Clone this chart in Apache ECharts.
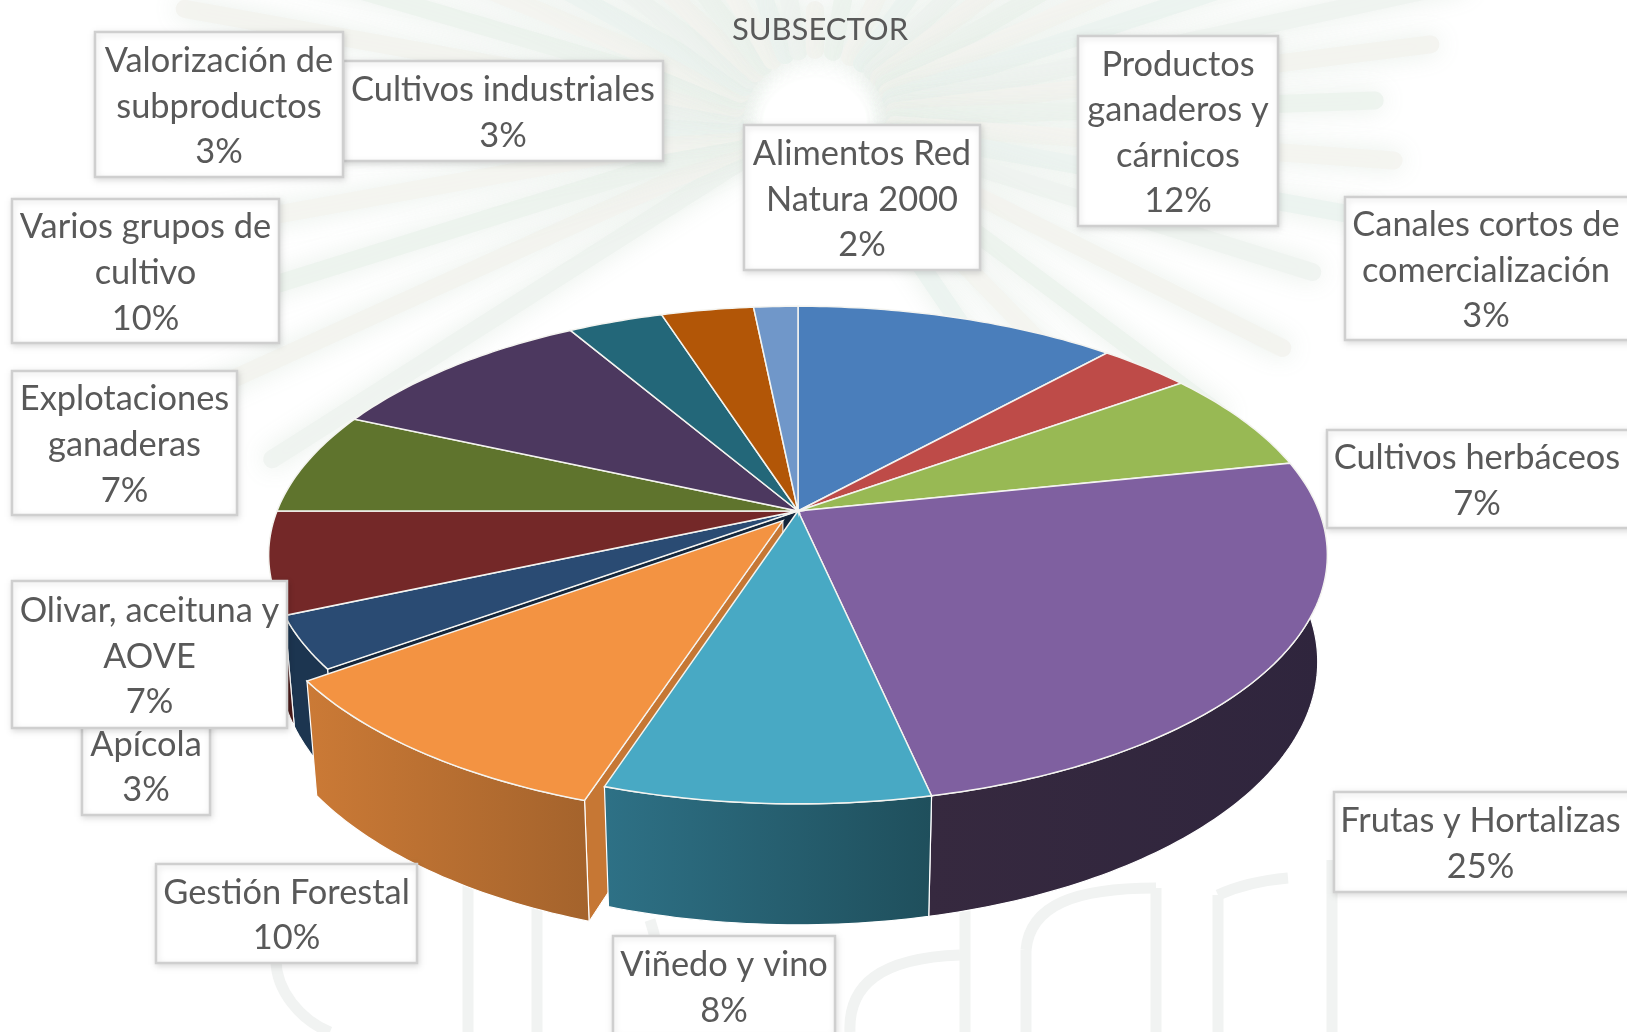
<!DOCTYPE html>
<html>
<head>
<meta charset="utf-8">
<title>Subsector</title>
<style>
  html, body { margin: 0; padding: 0; background: #fff; }
  #main { width: 1627px; height: 1032px; }
</style>
<script src="https://cdn.jsdelivr.net/npm/echarts@6/dist/echarts.min.js"></script>
</head>
<body>
<div id="main"></div>
<script>
// clockwise from 12 o'clock
var categories = [
  'Productos ganaderos y cárnicos', 'Canales cortos de comercialización', 'Cultivos herbáceos',
  'Frutas y Hortalizas', 'Viñedo y vino', 'Gestión Forestal', 'Apícola', 'Olivar, aceituna y AOVE',
  'Explotaciones ganaderas', 'Varios grupos de cultivo', 'Cultivos industriales',
  'Valorización de subproductos', 'Alimentos Red Natura 2000'
];
// the labels show them rounded
var values = [11.7, 3.35, 6.65, 24.9, 8.4, 10, 3.4, 6.6, 6.7, 9.9, 3.45, 3.35, 1.6];
var topColors = ['#4a7ebb', '#be4b48', '#98b954', '#7f60a0', '#48a9c4', '#f39342', '#2a4b73',
  '#742828', '#5f742d', '#4c385f', '#236779', '#b25607', '#7097c9'];
var sideColors = ['#2f4f75', '#772f2d', '#5f7334', '#36293f', '#2e7186', '#cb7a36', '#1c3550',
  '#4a1a19', '#3c4a1c', '#2f233c', '#16414c', '#703604', '#46607f'];
var sideColorsEnd = ['#2f4f75', '#772f2d', '#5f7334', '#2f253d', '#1f4f5c', '#a4632c', '#1c3550',
  '#4a1a19', '#3c4a1c', '#2f233c', '#16414c', '#703604', '#46607f'];
// label line breaks as in the picture
var labelLines = [
  ['Productos', 'ganaderos y', 'cárnicos'], ['Canales cortos de', 'comercialización'], ['Cultivos herbáceos'],
  ['Frutas y Hortalizas'], ['Viñedo y vino'], ['Gestión Forestal'], ['Apícola'], ['Olivar, aceituna y', 'AOVE'],
  ['Explotaciones', 'ganaderas'], ['Varios grupos de', 'cultivo'], ['Cultivos industriales'],
  ['Valorización de', 'subproductos'], ['Alimentos Red', 'Natura 2000']
];
// label boxes: x, y, w, h
var labelBoxes = [
  [1078, 36, 200, 190], [1345, 197, 290, 143], [1327, 430, 310, 98],
  [1334, 792, 300, 100], [613, 936, 222, 100], [156, 864, 261, 99], [82, 716, 128, 99], [12, 581, 275, 147],
  [12, 371, 225, 144], [12, 199, 267, 144], [343, 61, 320, 100],
  [95, 32, 248, 145], [744, 125, 236, 145]
];
var explodedIndex = 5;

// projection of the tilted disc
var cx = 798, cy = 511, radX = 521, radY = 241, persp = 0.177, depth = 107, depthW = 0.018, explode = 0.049;

function project(x, z, low) {
  var w = 1 - persp * z + (low ? depthW : 0);
  return [cx + radX * x / w, cy + (radY * z + (low ? depth : 0)) / w];
}
function rimPoints(a0, a1, ox, oz, low) {
  var pts = [];
  var n = Math.max(2, Math.ceil((a1 - a0) * 60));
  for (var i = 0; i <= n; i++) {
    var a = a0 + (a1 - a0) * i / n;
    pts.push(project(Math.sin(a) + ox, -Math.cos(a) + oz, low));
  }
  return pts;
}

var total = values.reduce(function (s, v) { return s + v; }, 0);
var starts = [];
values.reduce(function (s, v, i) { starts[i] = s; return s + v; }, 0);

function renderSlice(params, api) {
  var i = params.dataIndex;
  var a0 = api.value(1) / total * Math.PI * 2;
  var a1 = a0 + api.value(0) / total * Math.PI * 2;
  var mid = (a0 + a1) / 2;
  var isOut = i === explodedIndex;
  var ox = isOut ? Math.sin(mid) * explode : 0;
  var oz = isOut ? -Math.cos(mid) * explode : 0;
  var base = isOut ? 5 : 1;
  var children = [];

  var apex = project(ox, oz, false);
  var apexLow = project(ox, oz, true);
  var topRim = rimPoints(a0, a1, ox, oz, false);

  // outer wall, front half only
  var fa0 = Math.max(a0, Math.PI / 2 - 0.3), fa1 = Math.min(a1, Math.PI * 1.5 + 0.3);
  if (fa1 > fa0) {
    var upper = rimPoints(fa0, fa1, ox, oz, false);
    var lower = rimPoints(fa0, fa1, ox, oz, true).reverse();
    children.push({
      type: 'polygon', z2: base,
      shape: { points: upper.concat(lower) },
      style: {
        fill: new echarts.graphic.LinearGradient(0, 0, 1, 0, [
          { offset: 0, color: sideColors[i] }, { offset: 1, color: sideColorsEnd[i] }
        ]),
        stroke: '#fff', lineWidth: 1.2
      }
    });
  }
  // cut walls inside the gap, they sit under the slices that stayed in place
  if (isOut) {
    var r = rimPoints(a0, a0, ox, oz, false)[0];
    var rl = rimPoints(a0, a0, ox, oz, true)[0];
    children.push({
      type: 'polygon', z2: 0.5,
      shape: { points: [apex, r, rl, apexLow] },
      style: { fill: '#c67734', stroke: '#fff', lineWidth: 1 }
    });
  }
  if (i === explodedIndex + 1) {
    var n0 = rimPoints(a0, a0, 0, 0, false)[0];
    var n1 = rimPoints(a0, a0, 0, 0, true)[0];
    children.push({
      type: 'polygon', z2: 0,
      shape: { points: [apex, n0, n1, apexLow] },
      style: { fill: '#14263b', stroke: '#fff', lineWidth: 1 }
    });
  }
  children.push({
    type: 'polygon', z2: base + 1,
    shape: { points: [apex].concat(topRim) },
    style: { fill: topColors[i], stroke: '#f4f4f0', lineWidth: 1.5 }
  });
  return { type: 'group', children: children };
}

var labelFont = '34.4px Lato';
function renderLabel(params, api) {
  var i = params.dataIndex;
  var box = labelBoxes[i];
  var lines = labelLines[i].concat(Math.round(api.value(0)) + '%');
  var children = [{
    type: 'rect', z2: 10,
    shape: { x: box[0], y: box[1], width: box[2], height: box[3] },
    style: { fill: '#fff', stroke: '#cfcfcf', lineWidth: 2.5, shadowBlur: 6, shadowColor: 'rgba(0,0,0,0.12)', shadowOffsetX: 1, shadowOffsetY: 2 }
  }];
  var lh = 45.6;
  var y0 = box[1] + box[3] / 2 - lh * (lines.length - 1) / 2 + 2;
  // boxes cut by the page edge keep the text centred on the visible part
  var tx = box[0] + (Math.min(box[0] + box[2], 1627) - box[0]) / 2;
  lines.forEach(function (t, k) {
    children.push({
      type: 'text', z2: 11,
      x: tx, y: y0 + k * lh,
      style: { text: t, fill: '#595959', font: labelFont, align: 'center', verticalAlign: 'middle' }
    });
  });
  return { type: 'group', children: children };
}

// faint pine branch and lettering of the page watermark
var needleAngles = [148, 156, 163, 170, 177, 184, 190, 196, 202, 208, 215, 222, 230, 238, 248, 258, 270, 283, 296, 306, 316, 323, 330, 336, 342, 348, 353, 358, 4, 10, 17, 26, 36, 45, 55];
var needleLengths = [640, 680, 640, 620, 640, 650, 640, 620, 620, 640, 600, 560, 500, 300, 200, 130, 110, 130, 200, 420, 580, 640, 660, 700, 710, 660, 620, 560, 580, 560, 520, 520, 500, 460, 420];
var needleColors = ['#eef3ef', '#f3f3ee', '#ecf3ed', '#f4f4f0', '#ebf3ef'];
var bgItems = [];
needleAngles.forEach(function (deg, i) {
  var a = deg * Math.PI / 180;
  var l = needleLengths[i];
  bgItems.push({
    type: 'line', silent: true, z: 0,
    shape: { x1: 815 + Math.cos(a) * 80, y1: 120 + Math.sin(a) * 70, x2: 815 + Math.cos(a) * l, y2: 120 + Math.sin(a) * l },
    style: { stroke: needleColors[i % needleColors.length], lineWidth: 18, opacity: 0.9, shadowBlur: 24, shadowColor: '#e6ede7', lineCap: 'round' }
  });
});
// straight strokes: x1, y1, x2, y2
var letterStrokes = [
  [468, 860, 468, 1032], [537, 860, 537, 1032], [965, 880, 965, 1032], [1156, 888, 1156, 1032],
  [1026, 950, 1026, 1032], [1218, 895, 1218, 1032], [1332, 860, 1332, 1032]
];
// curved strokes: x1, y1, cp1x, cp1y, cp2x, cp2y, x2, y2
var letterCurves = [
  [276, 960, 276, 990, 300, 1020, 330, 1032],
  [640, 1032, 665, 985, 660, 950, 650, 920],
  [850, 1032, 848, 985, 880, 958, 960, 955],
  [1026, 950, 1030, 905, 1075, 888, 1156, 888],
  [1218, 895, 1240, 885, 1265, 880, 1288, 878]
];
var letterStyle = { stroke: '#f1f3f2', lineWidth: 11, fill: 'none' };
letterStrokes.forEach(function (s) {
  bgItems.push({ type: 'line', silent: true, z: 0, shape: { x1: s[0], y1: s[1], x2: s[2], y2: s[3] }, style: letterStyle });
});
letterCurves.forEach(function (c) {
  bgItems.push({
    type: 'bezierCurve', silent: true, z: 0,
    shape: { x1: c[0], y1: c[1], cpx1: c[2], cpy1: c[3], cpx2: c[4], cpy2: c[5], x2: c[6], y2: c[7] },
    style: letterStyle
  });
});

var chart = echarts.init(document.getElementById('main'));
var seriesData = values.map(function (v, i) {
  return { name: categories[i], value: [v, starts[i]] };
});
chart.setOption({
  animation: false,
  backgroundColor: '#fff',
  title: {
    text: 'SUBSECTOR', left: 815, top: 9, textAlign: 'center',
    textStyle: { color: '#595959', fontFamily: 'Lato', fontSize: 31, fontWeight: 'normal' }
  },
  graphic: { elements: bgItems },
  series: [
    { type: 'custom', coordinateSystem: 'none', silent: true, renderItem: renderSlice, data: seriesData, z: 2 },
    { type: 'custom', coordinateSystem: 'none', silent: true, renderItem: renderLabel, data: seriesData, z: 3 }
  ]
});
</script>
</body>
</html>
